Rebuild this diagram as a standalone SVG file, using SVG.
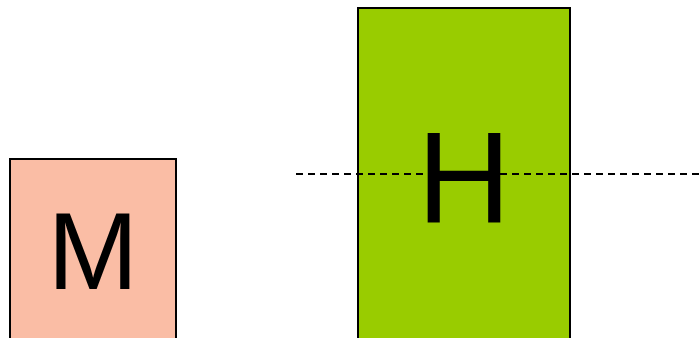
<svg xmlns="http://www.w3.org/2000/svg" width="700" height="338" viewBox="0 0 700 338">
<style>
.box{stroke:#000;stroke-width:2}
.lbl{font-family:"Liberation Sans",Arial,sans-serif;fill:#000;text-anchor:middle}
.dash{stroke:#000;stroke-width:2;stroke-dasharray:7 5;fill:none}
</style>
<rect width="700" height="338" fill="#fff"/>
<g id="node-M">
<rect class="box" x="10" y="159" width="166" height="190" fill="#FABDA5"/>
<text class="lbl" x="93" y="289" font-size="109">M</text>
</g>
<g id="node-H">
<rect class="box" x="358" y="8" width="212" height="340" fill="#99CC00"/>
</g>
<g id="connectors">
<line class="dash" x1="296" y1="174" x2="700" y2="174"/>
</g>
<g id="node-H-label">
<text class="lbl" x="464" y="222" font-size="130">H</text>
</g>
</svg>
